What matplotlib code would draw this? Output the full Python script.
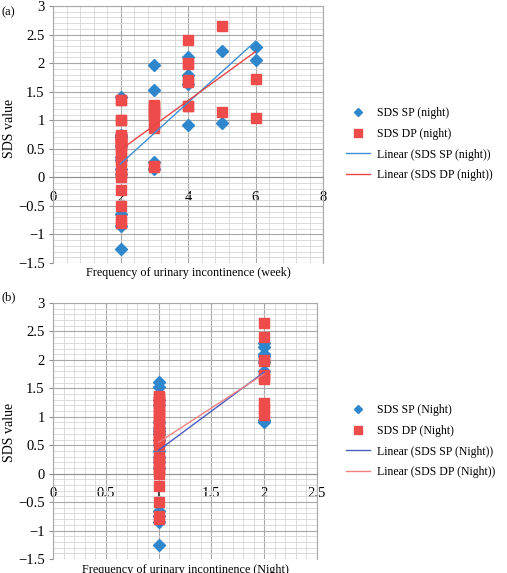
import matplotlib

matplotlib.use("Agg")
import matplotlib.pyplot as plt
import numpy as np
from matplotlib.ticker import MultipleLocator

plt.rcParams["font.family"] = ["Liberation Serif", "DejaVu Serif"]
plt.rcParams["axes.unicode_minus"] = True

# (a) weekly frequency of urinary incontinence
week_sp_x = [2, 2, 2, 2, 2, 2, 2, 2, 2, 2, 2,
             3, 3, 3, 3, 4, 4, 4, 4, 5, 5, 6, 6]
week_sp_y = [1.40, 0.75, 0.70, 0.55, 0.35, 0.30, 0.15, 0.05, -0.65, -0.85, -1.25,
             1.96, 1.53, 0.27, 0.15, 2.10, 1.80, 1.63, 0.91, 2.22, 0.95, 2.29, 2.06]
week_dp_x = [2, 2, 2, 2, 2, 2, 2, 2, 2, 2, 2, 2, 2, 2, 2, 2, 2, 2, 2, 2, 2, 2, 2, 2,
             3, 3, 3, 3, 3, 3, 3, 3, 3, 4, 4, 4, 4, 4, 4, 4, 5, 5, 6, 6]
week_dp_y = [1.36, 1.36, 1.00, 1.00, 0.75, 0.70, 0.70, 0.68, 0.65, 0.65, 0.60, 0.60,
             0.55, 0.50, 0.45, 0.30, 0.28, 0.10, 0.05, 0.00, -0.22, -0.50, -0.75, -0.80,
             1.27, 1.25, 1.20, 1.15, 1.10, 1.05, 0.87, 0.20, 0.18,
             2.40, 2.00, 1.98, 1.70, 1.67, 1.25, 1.25, 2.65, 1.14, 1.73, 1.04]

# (b) nightly frequency of urinary incontinence
night_sp_x = [1, 1, 1, 1, 1, 1, 1, 1, 1, 1, 1, 1, 1, 1, 1, 1, 1, 1,
              2, 2, 2, 2, 2, 2, 2, 2]
night_sp_y = [1.62, 1.53, 1.30, 1.20, 0.90, 0.80, 0.75, 0.70, 0.60, 0.50, 0.40,
              0.30, 0.20, 0.10, -0.65, -0.75, -0.85, -1.25,
              2.29, 2.22, 2.10, 2.06, 1.96, 1.80, 0.95, 0.91]
night_dp_x = [1, 1, 1, 1, 1, 1, 1, 1, 1, 1, 1, 1, 1, 1, 1, 1, 1, 1, 1, 1, 1, 1, 1, 1,
              1, 1, 1, 1, 1, 2, 2, 2, 2, 2, 2, 2, 2, 2, 2]
night_dp_y = [1.36, 1.35, 1.30, 1.27, 1.20, 1.15, 1.10, 1.05, 1.00, 0.95, 0.87, 0.80,
              0.75, 0.70, 0.65, 0.60, 0.55, 0.50, 0.30, 0.28, 0.20, 0.18, 0.10, 0.05,
              0.00, -0.22, -0.50, -0.75, -0.80,
              2.65, 2.40, 2.00, 1.98, 1.73, 1.70, 1.67, 1.25, 1.14, 1.04]

BLUE = "#2e86cc"
RED = "#ee4b4b"
GRID_MAJOR = "#a8a8a8"
GRID_MINOR = "#d6d6d6"


def draw_panel(ax, sp_x, sp_y, dp_x, dp_y, xmax, xmajor, xminor, names, line_colors):
    ax.plot(sp_x, sp_y, linestyle="none", marker="D", markersize=6,
            color=BLUE, label=names[0], zorder=3)
    ax.plot(dp_x, dp_y, linestyle="none", marker="s", markersize=7.5,
            color=RED, label=names[1], zorder=4)

    for xs, ys, color, name in [(sp_x, sp_y, line_colors[0], names[2]),
                                (dp_x, dp_y, line_colors[1], names[3])]:
        slope, intercept = np.polyfit(xs, ys, 1)
        fit_x = np.array([min(xs), max(xs)], dtype=float)
        ax.plot(fit_x, slope * fit_x + intercept, color=color, linewidth=1.0,
                label=name, zorder=5)

    ax.set_xlim(0, xmax)
    ax.set_ylim(-1.5, 3)
    ax.xaxis.set_major_locator(MultipleLocator(xmajor))
    ax.xaxis.set_minor_locator(MultipleLocator(xminor))
    ax.yaxis.set_major_locator(MultipleLocator(0.5))
    ax.yaxis.set_minor_locator(MultipleLocator(0.1))

    ax.grid(which="major", color=GRID_MAJOR, linewidth=0.8, zorder=0)
    ax.grid(which="minor", color=GRID_MINOR, linewidth=0.6, zorder=0)
    ax.set_axisbelow(True)

    for side in ["top", "right", "left"]:
        ax.spines[side].set_color(GRID_MAJOR)
        ax.spines[side].set_linewidth(0.8)
    ax.spines["bottom"].set_position(("data", 0))
    ax.spines["bottom"].set_color("#909090")
    ax.spines["bottom"].set_linewidth(0.8)

    ax.tick_params(axis="x", which="both", length=0, pad=9.5, labelsize=10.5)
    ax.tick_params(axis="y", which="major", length=3, color="#909090",
                   pad=3, labelsize=10.5)
    ax.tick_params(axis="y", which="minor", length=0)
    ax.xaxis.set_major_formatter(lambda v, pos: f"{v:g}")
    ax.yaxis.set_major_formatter(lambda v, pos: f"{v:g}".replace("-", "\u2212"))

    ax.legend(loc="upper left", bbox_transform=fig.transFigure, frameon=False,
              fontsize=8.5, handlelength=2.0, labelspacing=0.75, borderpad=0,
              handletextpad=0.6, markerscale=0.7,
              bbox_to_anchor=(340 / 507, 1 - (101 if xmax == 8 else 398) / 573))


fig = plt.figure(figsize=(5.07, 5.73), dpi=100)

ax_a = fig.add_axes([53 / 507, 1 - 263 / 573, 270 / 507, 257 / 573])
draw_panel(ax_a, week_sp_x, week_sp_y, week_dp_x, week_dp_y, 8, 2, 0.4,
           ["SDS SP (night)", "SDS DP (night)",
            "Linear (SDS SP (night))", "Linear (SDS DP (night))"],
           ["#3f8fd6", "#e84545"])

ax_b = fig.add_axes([53 / 507, 1 - 559 / 573, 264 / 507, 256 / 573])
draw_panel(ax_b, night_sp_x, night_sp_y, night_dp_x, night_dp_y, 2.5, 0.5, 0.1,
           ["SDS SP (Night)", "SDS DP (Night)",
            "Linear (SDS SP (Night))", "Linear (SDS DP (Night))"],
           ["#4a5cc0", "#f08080"])

fig.text(2 / 507, 1 - 12 / 573, "(a)", fontsize=9, va="center", ha="left")
fig.text(2 / 507, 1 - 297 / 573, "(b)", fontsize=9, va="center", ha="left")

fig.text(10 / 507, 1 - 128 / 573, "SDS value", fontsize=10, rotation=90,
         va="center", ha="center")
fig.text(10 / 507, 1 - 432 / 573, "SDS value", fontsize=10, rotation=90,
         va="center", ha="center")

fig.text(188 / 507, 1 - 273 / 573, "Frequency of urinary incontinence (week)",
         fontsize=8.7, va="center", ha="center")
fig.text(185 / 507, 1 - 564 / 573, "Frequency of urinary incontinence (Night)",
         fontsize=8.7, va="top", ha="center")

fig.savefig("out.png", dpi=100)
